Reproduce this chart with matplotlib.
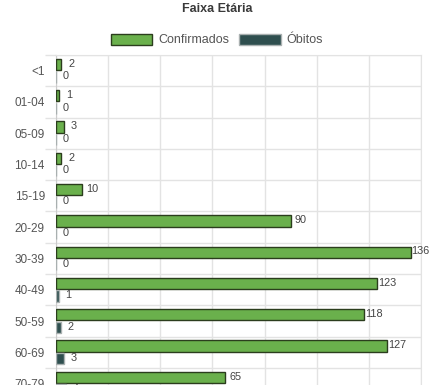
import numpy as np
import matplotlib.pyplot as plt

# age groups and counts
faixas = ['<1', '01-04', '05-09', '10-14', '15-19', '20-29', '30-39',
          '40-49', '50-59', '60-69', '70-79']
confirmados = [2, 1, 3, 2, 10, 90, 136, 123, 118, 127, 65]
obitos = [0, 0, 0, 0, 0, 0, 0, 1, 2, 3, 4]

plt.rcParams['font.family'] = ['Liberation Sans', 'DejaVu Sans']

W, H = 434, 385
fig = plt.figure(figsize=(W / 100, H / 100), dpi=100)

# axes: top at 55px, each category ~31.3px, last one runs off the bottom
top, left, right = 55, 56, 421
band = 31.3
h = band * len(faixas)
ax = fig.add_axes([left / W, 1 - (top + h) / H, (right - left) / W, h / H])

y = np.arange(len(faixas))
bh = 0.36
verde = '#6ab04c'
escuro = '#2f4f4f'

ax.barh(y - 0.2, confirmados, height=bh, color=verde, edgecolor='#2b3d1d',
        linewidth=1, label='Confirmados', zorder=3)
ax.barh(y + 0.2, obitos, height=bh, color=escuro, edgecolor='#a9b0b0',
        linewidth=1, label='Óbitos', zorder=3)

# value labels centred a few px past the bar end
for i in range(len(faixas)):
    ax.annotate(str(confirmados[i]), (confirmados[i], y[i] - 0.2),
                xytext=(7.3, 0.5), textcoords='offset points',
                va='center', ha='center', fontsize=7.8, color='#444444')
    ax.annotate(str(obitos[i]), (obitos[i], y[i] + 0.2),
                xytext=(7.0, 0.5), textcoords='offset points',
                va='center', ha='center', fontsize=7.8, color='#444444')

ax.set_xlim(0, 140)
ax.set_ylim(len(faixas) - 0.5, -0.5)
ax.set_xticks(np.arange(0, 141, 20))
ax.set_xticklabels([])
ax.tick_params(axis='x', length=0)
ax.set_yticks(y)
ax.set_yticklabels(faixas, fontsize=8.5, color='#555555')
ax.tick_params(axis='y', which='major', length=0, pad=8)
ax.set_yticks(np.arange(-0.5, len(faixas), 1), minor=True)
ax.tick_params(axis='y', which='minor', length=8, color='#e3e3e3', width=1)
ax.grid(True, which='major', axis='x', color='#e3e3e3', linewidth=1, zorder=0)
ax.grid(True, which='minor', axis='y', color='#e3e3e3', linewidth=1, zorder=0)
for s in ax.spines.values():
    s.set_color('#e3e3e3')
ax.spines['left'].set_color('#cccccc')

fig.text(217 / W, 1 - 9.5 / H, 'Faixa Etária', ha='center', va='center',
         fontsize=9, fontweight='bold', color='#3a3a3a')
fig.legend(loc='center', bbox_to_anchor=(217 / W, 1 - 40 / H), ncol=2,
           frameon=False, fontsize=9, handlelength=3.3, handleheight=1.0,
           columnspacing=0.8, handletextpad=0.5, labelcolor='#555555')

fig.savefig('out.png', dpi=100)
